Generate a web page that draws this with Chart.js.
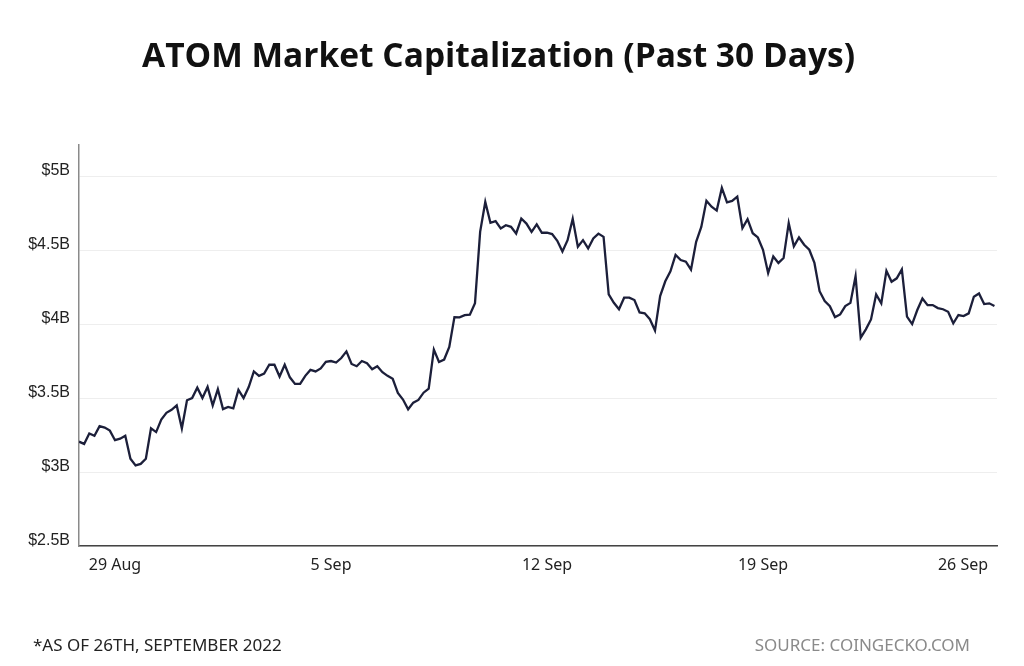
<!DOCTYPE html>
<html>
<head>
<meta charset="utf-8">
<script src="https://cdn.jsdelivr.net/npm/chart.js@4.4.1/dist/chart.umd.min.js"></script>
<style>
  html, body { margin: 0; padding: 0; background: #fff; }
  #wrap { width: 1024px; height: 666px; position: relative; }
</style>
</head>
<body>
<div id="wrap"><canvas id="chart"></canvas></div>
<script>
  // ATOM market cap in $B, one reading every 4 hours starting 27 Aug 20:00
  const startHour = -28;   // hours relative to 29 Aug 00:00
  const stepHours = 4;
  const marketCap = [
    3.205, 3.19, 3.26, 3.245, 3.31, 3.30, 3.28, 3.215, 3.225, 3.245, 3.09, 3.045, 3.055, 3.09, 3.295, 3.27,
    3.355, 3.40, 3.42, 3.45, 3.295, 3.485, 3.50, 3.57, 3.50, 3.575, 3.45, 3.56, 3.425, 3.44, 3.43, 3.555, 3.50,
    3.574, 3.68, 3.65, 3.665, 3.725, 3.725, 3.645, 3.725, 3.64, 3.595, 3.595, 3.65, 3.69, 3.68, 3.70,
    3.745, 3.75, 3.74, 3.77, 3.815, 3.73, 3.715, 3.75, 3.735, 3.695, 3.715, 3.675, 3.65, 3.63, 3.535,
    3.49, 3.424, 3.469, 3.487, 3.536, 3.563, 3.827, 3.744, 3.76, 3.845, 4.047, 4.045, 4.06, 4.063, 4.141,
    4.623, 4.825, 4.684, 4.695, 4.646, 4.668, 4.657, 4.612, 4.713, 4.679, 4.623, 4.673, 4.617, 4.617, 4.608, 4.563,
    4.49, 4.567, 4.711, 4.522, 4.567, 4.511, 4.578, 4.611, 4.589, 4.20, 4.144, 4.10, 4.178, 4.178, 4.162,
    4.078, 4.073, 4.033, 3.956, 4.189, 4.289, 4.356, 4.467, 4.433, 4.422, 4.367, 4.556, 4.656, 4.833, 4.793, 4.767,
    4.92, 4.823, 4.832, 4.861, 4.648, 4.709, 4.614, 4.585, 4.502, 4.345, 4.457, 4.413, 4.446, 4.682, 4.525,
    4.585, 4.536, 4.502, 4.413, 4.222, 4.155, 4.121, 4.047, 4.065, 4.121, 4.143, 4.323, 3.908, 3.964, 4.031,
    4.20, 4.14, 4.36, 4.286, 4.309, 4.369, 4.05, 4.0, 4.095, 4.173, 4.128, 4.128, 4.108, 4.10, 4.083,
    4.005, 4.061, 4.054, 4.072, 4.185, 4.207, 4.135, 4.14, 4.122
  ];
  const xTickHours = [0, 168, 336, 504, 672];
  // last label padded with em spaces so it stays inside the frame like the original
  const xTickLabels = ['29 Aug', '5 Sep', '12 Sep', '19 Sep', '26 Sep\u2003\u2003'];
  const yTickValues = [2.5, 3, 3.5, 4, 4.5, 5];

  const points = marketCap.map((v, i) => ({ x: startHour + i * stepHours, y: v }));

  // Footer notes drawn under the plot
  const footerPlugin = {
    id: 'footerNotes',
    afterDraw(chart) {
      const ctx = chart.ctx;
      ctx.save();
      ctx.font = '17px "Noto Sans"';
      ctx.textBaseline = 'middle';
      ctx.fillStyle = '#222';
      ctx.textAlign = 'left';
      ctx.fillText('*AS OF 26TH, SEPTEMBER 2022', 33, 646);
      ctx.fillStyle = '#8a8a8a';
      ctx.textAlign = 'right';
      ctx.fillText('SOURCE: COINGECKO.COM', 970, 646);
      ctx.restore();
    }
  };

  new Chart(document.getElementById('chart'), {
    type: 'line',
    data: {
      datasets: [{
        data: points,
        borderColor: '#1c1f3a',
        borderWidth: 2.3,
        pointRadius: 0,
        tension: 0,
        fill: false
      }]
    },
    options: {
      responsive: true,
      maintainAspectRatio: false,
      animation: false,
      layout: { padding: { left: 0, right: 27, top: 0, bottom: 80 } },
      plugins: {
        legend: { display: false },
        tooltip: { enabled: false },
        title: {
          display: true,
          text: 'ATOM Market Capitalization (Past 30 Days)',
          color: '#111',
          font: { family: '"Open Sans"', size: 33.5, weight: '700' },
          padding: { top: 37, bottom: 67.8 }
        }
      },
      scales: {
        x: {
          type: 'linear',
          min: startHour,
          max: 686,
          afterBuildTicks: scale => { scale.ticks = xTickHours.map(v => ({ value: v })); },
          afterFit: scale => {
            scale.height = 40;
            scale.paddingLeft = 0;
            scale.paddingRight = 0;
          },
          grid: { display: false },
          border: { display: true, color: '#444', width: 1.5 },
          ticks: {
            padding: 2,
            maxRotation: 0,
            color: '#222',
            font: { family: '"Noto Sans"', size: 16 },
            callback: v => xTickLabels[xTickHours.indexOf(v)] || ''
          }
        },
        y: {
          min: 2.5,
          max: 5.21,
          afterBuildTicks: scale => { scale.ticks = yTickValues.map(v => ({ value: v })); },
          afterFit: scale => { scale.width = 79; },
          grid: { color: '#eeeeee', drawTicks: false },
          border: { display: true, color: '#8a8a8a', width: 1.5 },
          ticks: {
            padding: 9,
            labelOffset: -5,
            color: '#222',
            font: { family: '"Liberation Sans"', size: 16 },
            callback: v => '$' + v + 'B'
          }
        }
      }
    },
    plugins: [footerPlugin]
  });
</script>
</body>
</html>
